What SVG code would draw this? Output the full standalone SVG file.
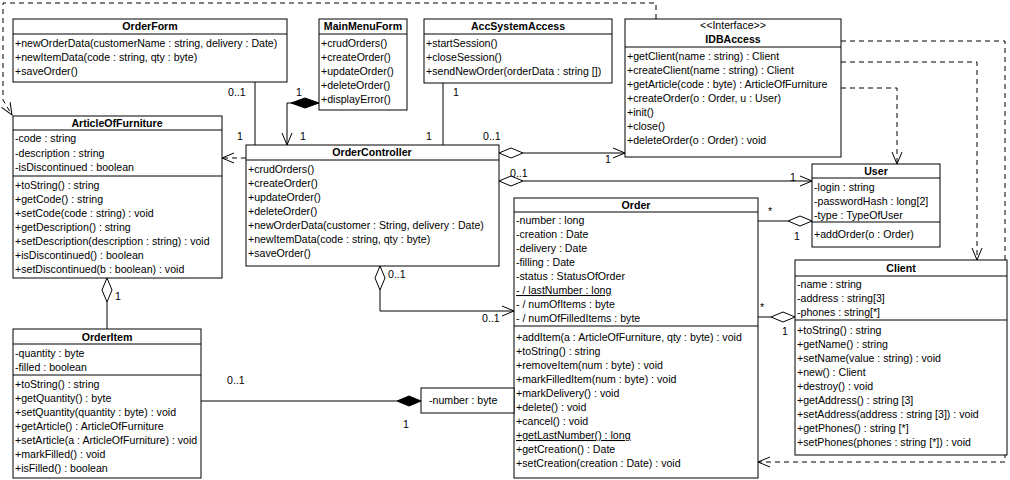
<svg xmlns="http://www.w3.org/2000/svg" width="1010" height="480" viewBox="0 0 1010 480">
<style>
text{font-family:"Liberation Sans",Arial,sans-serif;font-size:10.6px;fill:#000}
.t{font-weight:bold;text-anchor:middle}
.c{text-anchor:middle}
.u{text-decoration:underline}
rect{fill:#fff;stroke:#000;stroke-width:1}
.l{stroke:#000;stroke-width:1;fill:none}
.d{stroke:#000;stroke-width:1;fill:none;stroke-dasharray:5,4}
.hd{fill:#fff;stroke:#000}
.fd{fill:#000;stroke:#000}
</style>
<defs>
<marker id="a" markerWidth="14" markerHeight="12" refX="13" refY="6" orient="auto" markerUnits="userSpaceOnUse"><path d="M1,1 L13,6 L1,11" fill="none" stroke="#000"/></marker>
</defs>
<g id="connectors">
<path class="d" d="M656,19 V3 H3 V100 L12,115" marker-end="url(#a)"/>
<path class="l" d="M255,82 V145"/>
<path class="l" d="M319,103 H287 V145" marker-end="url(#a)"/>
<polygon class="fd" points="319,103 305,98 291,103 305,108"/>
<path class="l" d="M443,83 V145"/>
<path class="l" d="M523,153 H625" marker-end="url(#a)"/>
<polygon class="hd" points="499,153 511,148 523,153 511,158"/>
<path class="l" d="M523,181 H812" marker-end="url(#a)"/>
<polygon class="hd" points="499,181 511,176 523,181 511,186"/>
<path class="d" d="M246,158 H222" marker-end="url(#a)"/>
<path class="d" d="M841,88 H897 V164" marker-end="url(#a)"/>
<path class="d" d="M841,62 H977 V260" marker-end="url(#a)"/>
<path class="d" d="M841,41 H1005 V462 H758" marker-end="url(#a)"/>
<path class="l" d="M758,221 H788"/>
<polygon class="hd" points="812,221 800,216 788,221 800,226"/>
<path class="l" d="M758,317 H771"/>
<polygon class="hd" points="795,317 783,312 771,317 783,322"/>
<path class="l" d="M380,290 V311 H514" marker-end="url(#a)"/>
<polygon class="hd" points="380,266 375,278 380,290 385,278"/>
<path class="l" d="M107,302 V329"/>
<polygon class="hd" points="107,278 102,290 107,302 112,290"/>
<path class="l" d="M201,401 H397"/>
<polygon class="fd" points="421,401 409,396 397,401 409,406"/>
<text x="228" y="96">0..1</text><text x="237" y="140">1</text>
<text x="296" y="96">1</text><text x="300" y="140">1</text>
<text x="453" y="96">1</text><text x="426" y="140">1</text>
<text x="483" y="140">0..1</text><text x="605" y="163">1</text>
<text x="510" y="177">0..1</text><text x="790" y="181">1</text>
<text x="768" y="215">*</text><text x="794" y="240">1</text>
<text x="760" y="311">*</text><text x="782" y="335">1</text>
<text x="388" y="278">0..1</text><text x="482" y="322">0..1</text>
<text x="115" y="300">1</text>
<text x="227" y="384">0..1</text><text x="403" y="428">1</text>
</g>
<g id="OrderForm">
<rect x="13" y="19" width="274" height="63"/><path class="l" d="M13,34 H287"/>
<text class="t" x="150" y="30">OrderForm</text>
<text x="15" y="47">+newOrderData(customerName : string, delivery : Date)</text>
<text x="15" y="61">+newItemData(code : string, qty : byte)</text>
<text x="15" y="75">+saveOrder()</text>
</g>
<g id="MainMenuForm">
<rect x="319" y="19" width="88" height="91"/><path class="l" d="M319,34 H407"/>
<text class="t" x="363" y="30">MainMenuForm</text>
<text x="321" y="47">+crudOrders()</text>
<text x="321" y="61">+createOrder()</text>
<text x="321" y="75">+updateOrder()</text>
<text x="321" y="89">+deleteOrder()</text>
<text x="321" y="103">+displayError()</text>
</g>
<g id="AccSystemAccess">
<rect x="424" y="19" width="188" height="64"/><path class="l" d="M424,34 H612"/>
<text class="t" x="518" y="30">AccSystemAccess</text>
<text x="426" y="47">+startSession()</text>
<text x="426" y="61">+closeSession()</text>
<text x="426" y="75">+sendNewOrder(orderData : string [])</text>
</g>
<g id="IDBAccess">
<rect x="625" y="19" width="216" height="138"/><path class="l" d="M625,47 H841"/>
<text class="c" x="733" y="29">&lt;&lt;Interface&gt;&gt;</text>
<text class="t" x="733" y="43">IDBAccess</text>
<text x="627" y="60">+getClient(name : string) : Client</text>
<text x="627" y="74">+createClient(name : string) : Client</text>
<text x="627" y="88">+getArticle(code : byte) : ArticleOfFurniture</text>
<text x="627" y="102">+createOrder(o : Order, u : User)</text>
<text x="627" y="116">+init()</text>
<text x="627" y="130">+close()</text>
<text x="627" y="144">+deleteOrder(o : Order) : void</text>
</g>
<g id="ArticleOfFurniture">
<rect x="13" y="116" width="209" height="162"/><path class="l" d="M13,130 H222 M13,176 H222"/>
<text class="t" x="117" y="127">ArticleOfFurniture</text>
<text x="15" y="142">-code : string</text>
<text x="15" y="157">-description : string</text>
<text x="15" y="171">-isDiscontinued : boolean</text>
<text x="15" y="189">+toString() : string</text>
<text x="15" y="203">+getCode() : string</text>
<text x="15" y="217">+setCode(code : string) : void</text>
<text x="15" y="231">+getDescription() : string</text>
<text x="15" y="245">+setDescription(description : string) : void</text>
<text x="15" y="259">+isDiscontinued() : boolean</text>
<text x="15" y="273">+setDiscontinued(b : boolean) : void</text>
</g>
<g id="OrderController">
<rect x="246" y="145" width="253" height="121"/><path class="l" d="M246,160 H499"/>
<text class="t" x="372" y="156">OrderController</text>
<text x="248" y="173">+crudOrders()</text>
<text x="248" y="187">+createOrder()</text>
<text x="248" y="201">+updateOrder()</text>
<text x="248" y="215">+deleteOrder()</text>
<text x="248" y="229">+newOrderData(customer : String, delivery : Date)</text>
<text x="248" y="243">+newItemData(code : string, qty : byte)</text>
<text x="248" y="257">+saveOrder()</text>
</g>
<g id="User">
<rect x="812" y="164" width="128" height="83"/><path class="l" d="M812,178 H940 M812,222 H940"/>
<text class="t" x="876" y="175">User</text>
<text x="814" y="191">-login : string</text>
<text x="814" y="205">-passwordHash : long[2]</text>
<text x="814" y="219">-type : TypeOfUser</text>
<text x="814" y="238">+addOrder(o : Order)</text>
</g>
<g id="Order">
<rect x="514" y="198" width="244" height="280"/><path class="l" d="M514,212 H758 M514,326 H758"/>
<text class="t" x="636" y="209">Order</text>
<text x="516" y="224">-number : long</text>
<text x="516" y="238">-creation : Date</text>
<text x="516" y="252">-delivery : Date</text>
<text x="516" y="266">-filling : Date</text>
<text x="516" y="280">-status : StatusOfOrder</text>
<text x="516" y="294" class="u">- / lastNumber : long</text>
<text x="516" y="308">- / numOfItems : byte</text>
<text x="516" y="322">- / numOfFilledItems : byte</text>
<text x="516" y="341">+addItem(a : ArticleOfFurniture, qty : byte) : void</text>
<text x="516" y="355">+toString() : string</text>
<text x="516" y="369">+removeItem(num : byte) : void</text>
<text x="516" y="383">+markFilledItem(num : byte) : void</text>
<text x="516" y="397">+markDelivery() : void</text>
<text x="516" y="411">+delete() : void</text>
<text x="516" y="425">+cancel() : void</text>
<text x="516" y="439" class="u">+getLastNumber() : long</text>
<text x="516" y="453">+getCreation() : Date</text>
<text x="516" y="467">+setCreation(creation : Date) : void</text>
</g>
<g id="Client">
<rect x="795" y="260" width="212" height="195"/><path class="l" d="M795,276 H1007 M795,320 H1007"/>
<text class="t" x="901" y="272">Client</text>
<text x="797" y="288">-name : string</text>
<text x="797" y="302">-address : string[3]</text>
<text x="797" y="316">-phones : string[*]</text>
<text x="797" y="334">+toString() : string</text>
<text x="797" y="348">+getName() : string</text>
<text x="797" y="362">+setName(value : string) : void</text>
<text x="797" y="376">+new() : Client</text>
<text x="797" y="390">+destroy() : void</text>
<text x="797" y="404">+getAddress() : string [3]</text>
<text x="797" y="418">+setAddress(address : string [3]) : void</text>
<text x="797" y="432">+getPhones() : string [*]</text>
<text x="797" y="446">+setPhones(phones : string [*]) : void</text>
</g>
<g id="OrderItem">
<rect x="13" y="329" width="188" height="149"/><path class="l" d="M13,344 H201 M13,375 H201"/>
<text class="t" x="107" y="341">OrderItem</text>
<text x="15" y="357">-quantity : byte</text>
<text x="15" y="371">-filled : boolean</text>
<text x="15" y="388">+toString() : string</text>
<text x="15" y="402">+getQuantity() : byte</text>
<text x="15" y="416">+setQuantity(quantity : byte) : void</text>
<text x="15" y="430">+getArticle() : ArticleOfFurniture</text>
<text x="15" y="444">+setArticle(a : ArticleOfFurniture) : void</text>
<text x="15" y="458">+markFilled() : void</text>
<text x="15" y="472">+isFilled() : boolean</text>
</g>
<g id="qualifier">
<rect x="421" y="388" width="93" height="25"/>
<text x="429" y="404">-number : byte</text>
</g>
</svg>
